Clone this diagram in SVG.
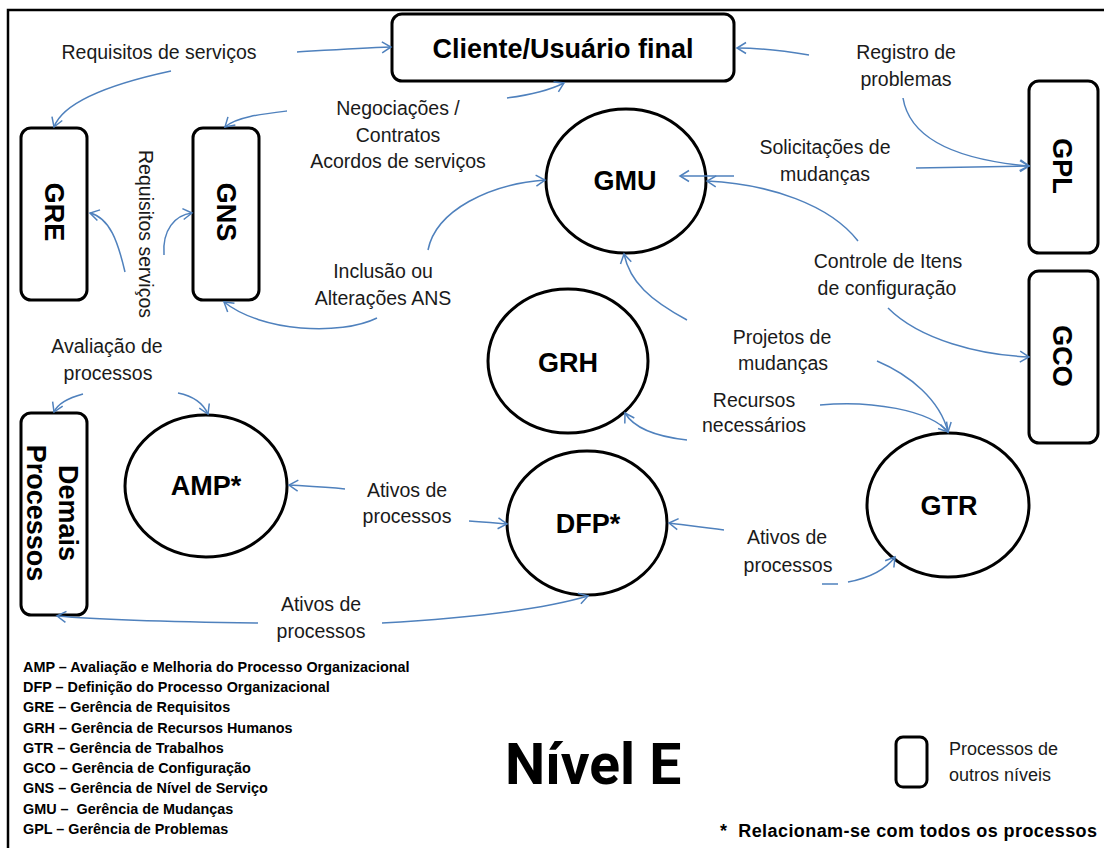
<svg xmlns="http://www.w3.org/2000/svg" width="1104" height="848" viewBox="0 0 1104 848">
<defs>
<style>
.frame{stroke:#000;stroke-width:2.5;fill:none}
.box{fill:#fff;stroke:#000;stroke-width:3}
.circ{fill:#fff;stroke:#000;stroke-width:3}
.nl{font-family:"Liberation Sans",Arial,sans-serif;font-weight:bold;font-size:27px;fill:#000;text-anchor:middle}
.lbl{font-family:"Liberation Sans",Arial,sans-serif;font-size:19.5px;fill:#1a1a1a;text-anchor:middle}
.leg{font-family:"Liberation Sans",Arial,sans-serif;font-weight:bold;font-size:14.4px;fill:#000;white-space:pre}
.con{fill:none;stroke:#4F81BD;stroke-width:1.5;marker-end:url(#arr)}
</style>
<marker id="arr" markerUnits="userSpaceOnUse" markerWidth="14" markerHeight="14" viewBox="-11 -7 13 14" refX="0" refY="0" orient="auto">
<path d="M-9,-5.5 L0,0 L-9,5.5" fill="none" stroke="#4F81BD" stroke-width="1.5"/>
</marker>
</defs>
<rect width="1104" height="848" fill="#fff"/>
<path class="frame" d="M8,848 L8,10 L1104,10"/>

<g id="node-cliente">
<rect class="box" x="392" y="14" width="342" height="67" rx="10"/>
<text class="nl" x="563" y="58" font-size="28">Cliente/Usuário final</text>
</g>
<g id="node-gre">
<rect class="box" x="21" y="128" width="66" height="172" rx="10"/>
<text class="nl" transform="translate(54,212) rotate(90)" x="0" y="9">GRE</text>
</g>
<g id="node-gns">
<rect class="box" x="193" y="128" width="66" height="172" rx="10"/>
<text class="nl" transform="translate(226,212) rotate(90)" x="0" y="9">GNS</text>
</g>
<g id="node-gpl">
<rect class="box" x="1029" y="81" width="69" height="172" rx="10"/>
<text class="nl" transform="translate(1062,166) rotate(90)" x="0" y="9">GPL</text>
</g>
<g id="node-gco">
<rect class="box" x="1029" y="271" width="69" height="172" rx="10"/>
<text class="nl" transform="translate(1062,356) rotate(90)" x="0" y="9">GCO</text>
</g>
<g id="node-demais">
<rect class="box" x="21" y="413" width="66" height="202" rx="10"/>
<text class="nl" transform="translate(54,513) rotate(90)" x="0" y="-5">Demais</text>
<text class="nl" transform="translate(54,513) rotate(90)" x="0" y="27">Processos</text>
</g>
<g id="node-gmu">
<ellipse class="circ" cx="626" cy="181" rx="80" ry="72"/>
<text class="nl" x="625" y="190">GMU</text>
</g>
<g id="node-grh">
<ellipse class="circ" cx="568" cy="361" rx="80" ry="72"/>
<text class="nl" x="568" y="372">GRH</text>
</g>
<g id="node-amp">
<ellipse class="circ" cx="206" cy="486" rx="81" ry="71"/>
<text class="nl" x="206" y="495">AMP*</text>
</g>
<g id="node-dfp">
<ellipse class="circ" cx="587" cy="523" rx="80" ry="72"/>
<text class="nl" x="588" y="533">DFP*</text>
</g>
<g id="node-gtr">
<ellipse class="circ" cx="948" cy="505" rx="81" ry="72"/>
<text class="nl" x="949" y="515">GTR</text>
</g>

<g id="connectors">
<path class="con" d="M297,52 C330,50 360,48 391,47"/>
<path class="con" d="M171,71 C120,82 64,100 54,127"/>
<path class="con" d="M287,111 C262,114 236,117 225,127"/>
<path class="con" d="M507,98 C530,95 550,90 564,83"/>
<path class="con" d="M428,250 C436,210 490,184 545,180"/>
<path class="con" d="M377,318 C340,336 262,332 224,302"/>
<path class="con" d="M125,272 C118,242 110,218 90,213"/>
<path class="con" d="M164,255 C162,230 175,215 192,213"/>
<path class="con" d="M809,55 C785,51 760,48 737,48"/>
<path class="con" d="M903,98 C910,140 960,160 1029,166"/>
<path class="con" d="M916,168 L1029,166"/>
<path class="con" d="M734,176 L680,176"/>
<path class="con" d="M858,241 C830,205 770,184 707,181"/>
<path class="con" d="M888,308 C920,340 980,355 1029,357"/>
<path class="con" d="M687,320 C650,300 630,282 624,254"/>
<path class="con" d="M877,361 C910,375 940,400 948,432"/>
<path class="con" d="M820,405 C870,400 930,410 948,432"/>
<path class="con" d="M687,440 C660,437 635,430 625,413"/>
<path class="con" d="M345,489 C325,487 305,486 289,485"/>
<path class="con" d="M469,521 C485,522 495,523 507,524"/>
<path class="con" d="M724,530 C705,528 685,525 669,523"/>
<path class="con" d="M382,623 C470,618 540,610 588,596"/>
<path class="con" d="M258,623 C180,622 100,620 57,616"/>
<path class="con" d="M83,394 C68,398 58,403 54,412"/>
<path class="con" d="M178,393 C193,396 203,403 208,414"/>
<path class="con" d="M822,584 L838,584 M848,582 C870,578 885,570 895,557"/>
</g>

<g id="labels">
<text class="lbl" x="159" y="59">Requisitos de serviços</text>
<text class="lbl" x="398" y="115">Negociações /</text>
<text class="lbl" x="398" y="142">Contratos</text>
<text class="lbl" x="398" y="168">Acordos de serviços</text>
<text class="lbl" x="383" y="278">Inclusão ou</text>
<text class="lbl" x="383" y="305">Alterações ANS</text>
<text class="lbl" transform="translate(146,234) rotate(90)" x="0" y="7">Requisitos serviços</text>
<text class="lbl" x="107" y="353">Avaliação de</text>
<text class="lbl" x="108" y="380">processos</text>
<text class="lbl" x="407" y="497">Ativos de</text>
<text class="lbl" x="407" y="523">processos</text>
<text class="lbl" x="321" y="611">Ativos de</text>
<text class="lbl" x="321" y="638">processos</text>
<text class="lbl" x="906" y="59">Registro de</text>
<text class="lbl" x="906" y="86">problemas</text>
<text class="lbl" x="825" y="154">Solicitações de</text>
<text class="lbl" x="825" y="181">mudanças</text>
<text class="lbl" x="888" y="268">Controle de Itens</text>
<text class="lbl" x="887" y="295">de configuração</text>
<text class="lbl" x="782" y="344">Projetos de</text>
<text class="lbl" x="783" y="370">mudanças</text>
<text class="lbl" x="754" y="407">Recursos</text>
<text class="lbl" x="754" y="432">necessários</text>
<text class="lbl" x="787" y="544">Ativos de</text>
<text class="lbl" x="788" y="572">processos</text>
</g>

<g id="legend">
<text class="leg" x="23" y="672">AMP – Avaliação e Melhoria do Processo Organizacional</text>
<text class="leg" x="23" y="692">DFP – Definição do Processo Organizacional</text>
<text class="leg" x="23" y="712">GRE – Gerência de Requisitos</text>
<text class="leg" x="23" y="733">GRH – Gerência de Recursos Humanos</text>
<text class="leg" x="23" y="753">GTR – Gerência de Trabalhos</text>
<text class="leg" x="23" y="773">GCO – Gerência de Configuração</text>
<text class="leg" x="23" y="793">GNS – Gerência de Nível de Serviço</text>
<text class="leg" x="23" y="814">GMU –  Gerência de Mudanças</text>
<text class="leg" x="23" y="834">GPL – Gerência de Problemas</text>
<text x="505" y="784" font-family="Roboto,'Liberation Sans',sans-serif" font-weight="bold" font-size="57">Nível E</text>
<rect class="box" x="896" y="737" width="31" height="50" rx="7"/>
<text x="949" y="755" font-family="'Liberation Sans',Arial,sans-serif" font-size="18" fill="#1a1a1a">Processos de</text>
<text x="949" y="781" font-family="'Liberation Sans',Arial,sans-serif" font-size="18" fill="#1a1a1a">outros níveis</text>
<text x="720" y="837" font-family="'Liberation Sans',Arial,sans-serif" font-weight="bold" font-size="18" textLength="377" lengthAdjust="spacing" style="white-space:pre">*  Relacionam-se com todos os processos</text>
</g>
</svg>
